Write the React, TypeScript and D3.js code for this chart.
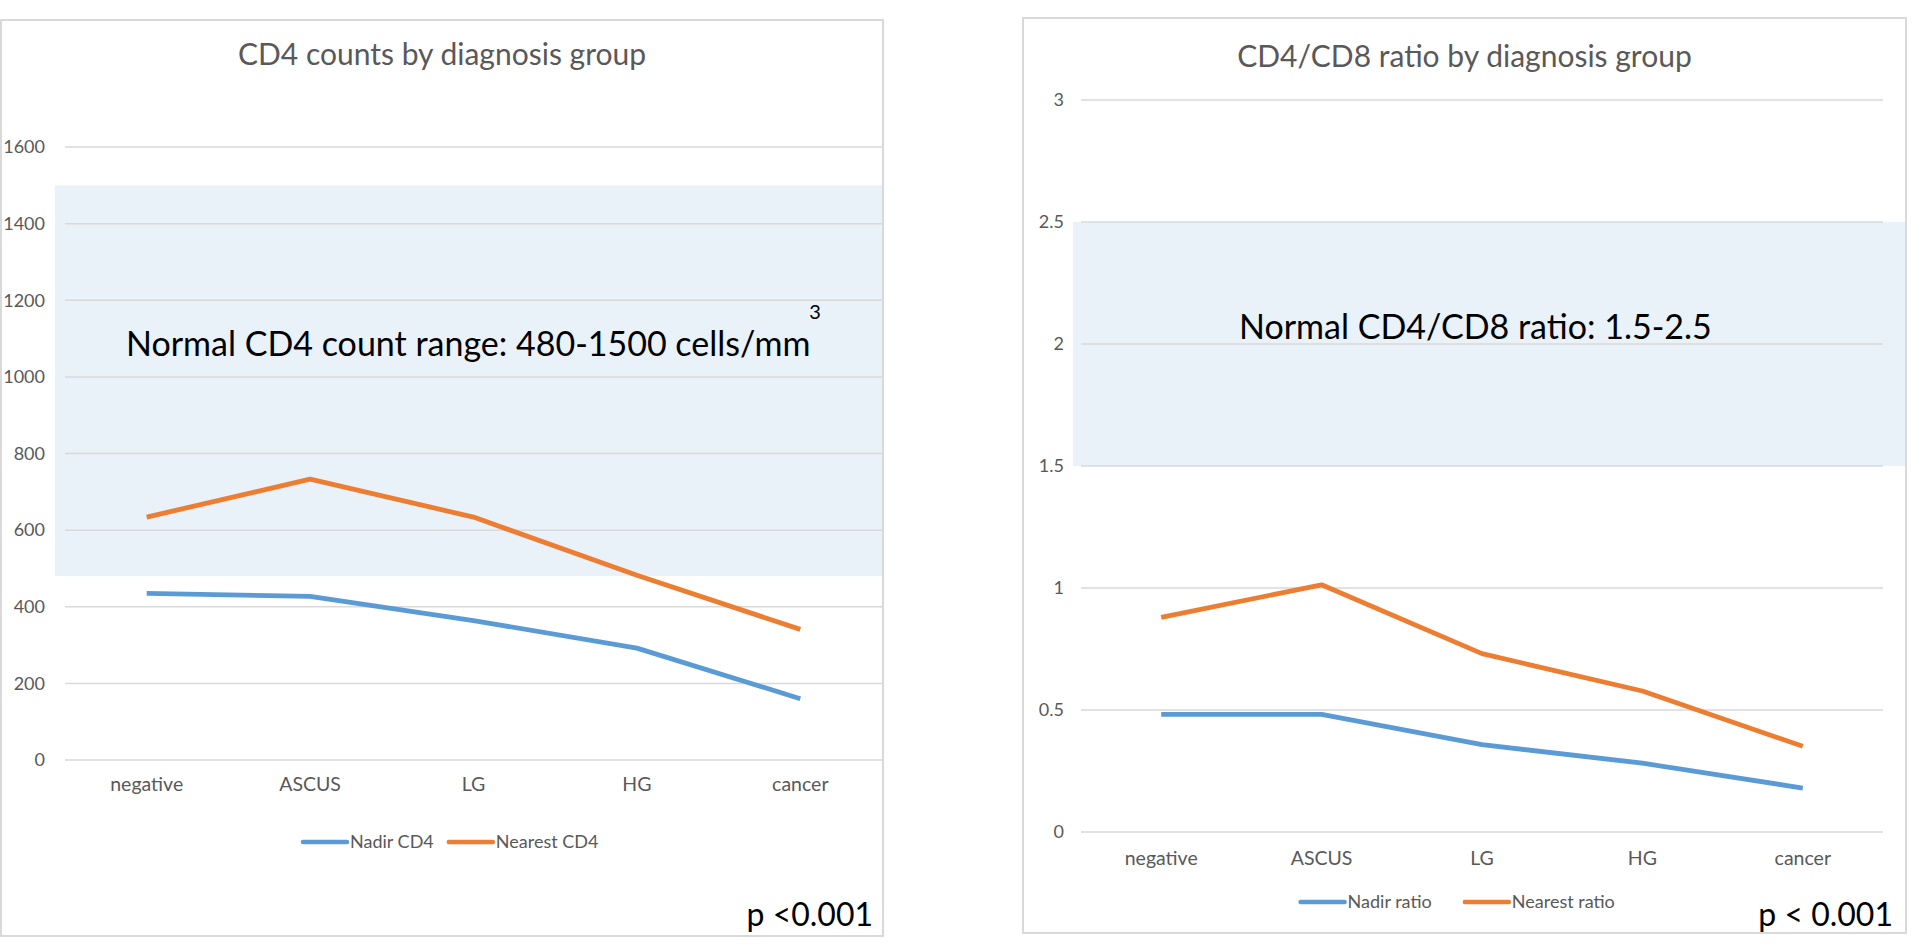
import React from "react";
import * as d3 from "d3";

const categories = ["negative", "ASCUS", "LG", "HG", "cancer"];
const nadirCD4 = [435, 427, 364, 292, 160];
const nearestCD4 = [634, 733, 634, 482, 341];
const nadirRatio = [0.482, 0.482, 0.358, 0.282, 0.18];
const nearestRatio = [0.88, 1.013, 0.731, 0.578, 0.351];
const cd4Ticks = [0, 200, 400, 600, 800, 1000, 1200, 1400, 1600];
const ratioTicks = [0, 0.5, 1, 1.5, 2, 2.5, 3];
const cd4Normal = [480, 1500];
const ratioNormal = [1.5, 2.5];
const cd4Labels = ["Nadir CD4", "Nearest CD4"];
const ratioLabels = ["Nadir ratio", "Nearest ratio"];
const seriesColors = ["#5b9bd5", "#ed7d31"];

const FONT = "Lato, 'Open Sans', sans-serif";
const GRAY = "#595959";

type PanelProps = {
  box: { x: number; y: number; w: number; h: number };
  plot: { left: number; right: number; top: number; bottom: number };
  bandX: [number, number];
  yMax: number;
  ticks: number[];
  normal: number[];
  series: number[][];
  labels: string[];
  title: string;
  titleY: number;
  catY: number;
  legend: { cx: number; y: number };
  yLabelX: number;
  bandText: React.ReactNode;
  pText: string;
  pX: number;
  pY: number;
};

function Panel(p: PanelProps) {
  const x = d3.scalePoint<string>().domain(categories).range([p.plot.left, p.plot.right]).padding(0.5);
  const y = d3.scaleLinear().domain([0, p.yMax]).range([p.plot.bottom, p.plot.top]);
  const line = d3
    .line<number>()
    .x((_, i) => x(categories[i]) as number)
    .y((d) => y(d));

  const lineLen = 44;
  const charW = 9.2;
  const widths = p.labels.map((l) => lineLen + 3 + l.length * charW);
  const gap = 16;
  const total = widths.reduce((a, b) => a + b, 0) + gap;
  let lx = p.legend.cx - total / 2;
  const legendItems = p.labels.map((l, i) => {
    const start = lx;
    lx += widths[i] + gap;
    return (
      <g key={l}>
        <line x1={start} x2={start + lineLen} y1={p.legend.y} y2={p.legend.y} stroke={seriesColors[i]} strokeWidth={4.5} strokeLinecap="round" />
        <text x={start + lineLen + 3} y={p.legend.y} dy="0.35em" fontSize={18} fill={GRAY} fontFamily={FONT}>
          {l}
        </text>
      </g>
    );
  });

  const cx = (p.box.x + p.box.x + p.box.w) / 2;

  return (
    <g>
      <rect x={p.box.x} y={p.box.y} width={p.box.w} height={p.box.h} fill="#fff" stroke="#d9d9d9" strokeWidth={2} />
      <text x={cx} y={p.titleY} dy="0.35em" textAnchor="middle" fontSize={30} fill={GRAY} fontFamily={FONT}>
        {p.title}
      </text>
      <rect
        x={p.bandX[0]}
        y={y(p.normal[1])}
        width={p.bandX[1] - p.bandX[0]}
        height={y(p.normal[0]) - y(p.normal[1])}
        fill="#e9f1f9"
      />
      {p.ticks.map((t) => (
        <g key={t}>
          <line x1={p.plot.left} x2={p.plot.right} y1={y(t)} y2={y(t)} stroke="#d9d9d9" strokeWidth={1.5} />
          <text x={p.yLabelX} y={y(t)} dy="0.35em" textAnchor="end" fontSize={18} fill={GRAY} fontFamily={FONT}>
            {String(t)}
          </text>
        </g>
      ))}
      {categories.map((c) => (
        <text key={c} x={x(c)} y={p.catY} dy="0.35em" textAnchor="middle" fontSize={19.5} fill={GRAY} fontFamily={FONT}>
          {c}
        </text>
      ))}
      {p.bandText}
      {p.series.map((s, i) => (
        <path key={i} d={line(s) || ""} fill="none" stroke={seriesColors[i]} strokeWidth={4.8} strokeLinejoin="round" />
      ))}
      {legendItems}
      <text x={p.pX} y={p.pY} textAnchor="end" fontSize={32} fill="#000" fontFamily={FONT}>
        {p.pText}
      </text>
    </g>
  );
}

export default function App() {
  return (
    <svg width={1920} height={945} style={{ position: "absolute", left: 0, top: 0, background: "#fff" }}>
      <rect x={0} y={0} width={1920} height={945} fill="#fff" />
      <Panel
        box={{ x: 1, y: 20, w: 882, h: 916 }}
        plot={{ left: 65, right: 882, top: 147, bottom: 760 }}
        bandX={[55, 882]}
        yMax={1600}
        ticks={cd4Ticks}
        normal={cd4Normal}
        series={[nadirCD4, nearestCD4]}
        labels={cd4Labels}
        title="CD4 counts by diagnosis group"
        titleY={54}
        catY={784}
        legend={{ cx: 450, y: 842 }}
        yLabelX={45}
        bandText={
          <g>
            <text x={126} y={356} fontSize={34} fill="#000" fontFamily={FONT}>
              Normal CD4 count range: 480-1500 cells/mm
            </text>
            <text x={815} y={312} dy="0.35em" textAnchor="middle" fontSize={20} fill="#000" fontFamily={FONT}>
              3
            </text>
          </g>
        }
        pText="p <0.001"
        pX={873}
        pY={926}
      />
      <Panel
        box={{ x: 1023, y: 18, w: 883, h: 915 }}
        plot={{ left: 1081, right: 1883, top: 100, bottom: 832 }}
        bandX={[1073, 1905]}
        yMax={3}
        ticks={ratioTicks}
        normal={ratioNormal}
        series={[nadirRatio, nearestRatio]}
        labels={ratioLabels}
        title="CD4/CD8 ratio by diagnosis group"
        titleY={56}
        catY={858}
        legend={{ cx: 1466, y: 902 }}
        yLabelX={1064}
        bandText={
          <text x={1239} y={339} fontSize={34} fill="#000" fontFamily={FONT}>
            Normal CD4/CD8 ratio: 1.5-2.5
          </text>
        }
        pText="p < 0.001"
        pX={1893}
        pY={926}
      />
    </svg>
  );
}
